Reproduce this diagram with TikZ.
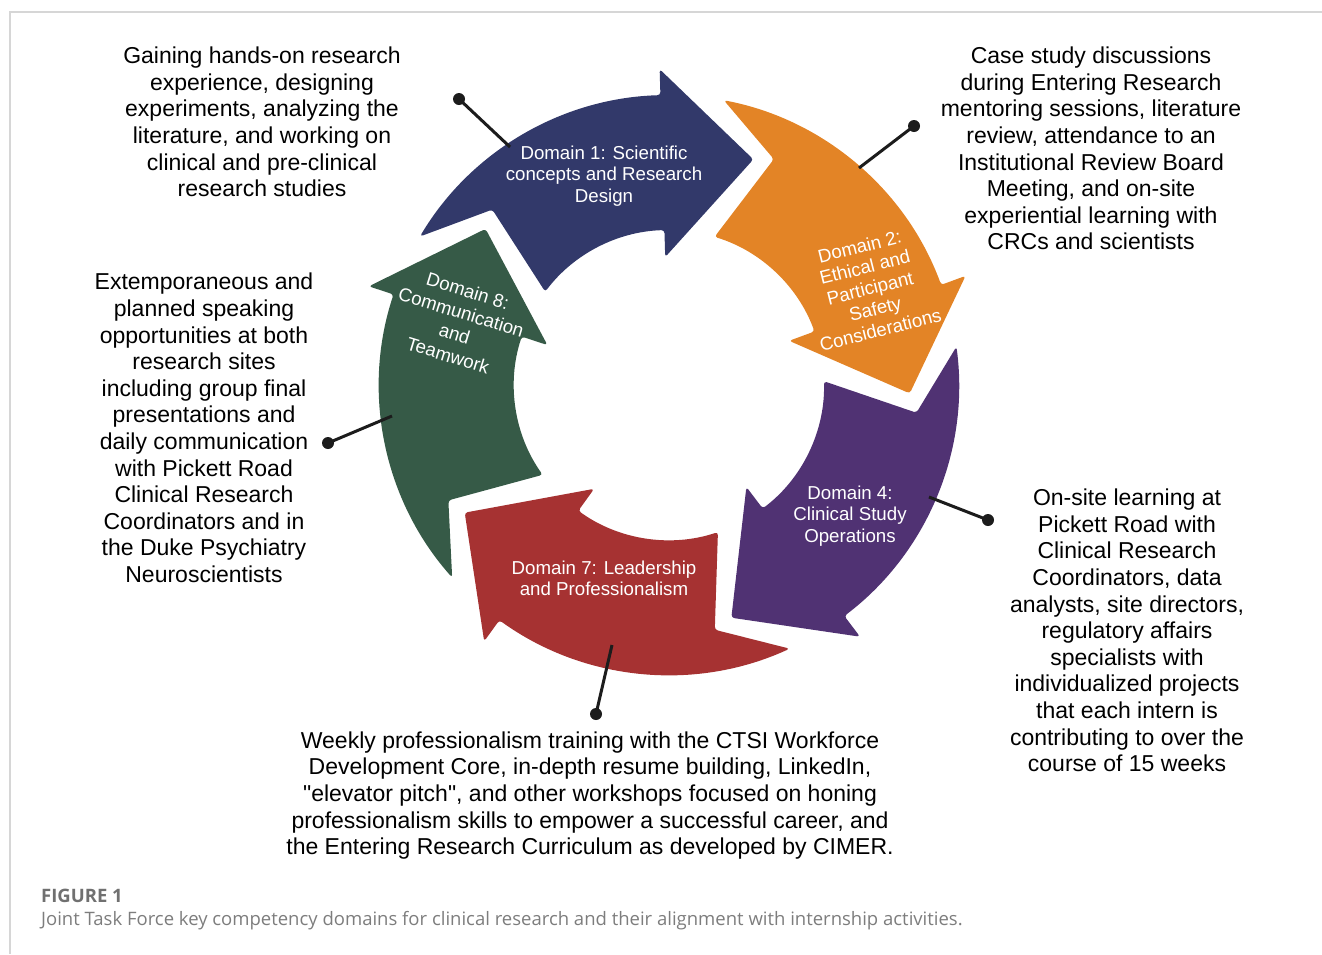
\documentclass[tikz,border=0pt]{standalone}
\usepackage{fontspec}
\setmainfont{Liberation Sans}[Ligatures=TeXOff]
\newfontfamily\capfont{Open Sans}
\usetikzlibrary{calc}

\definecolor{dnavy}{RGB}{50,57,106}
\definecolor{dorange}{RGB}{227,132,38}
\definecolor{dpurple}{RGB}{80,50,115}
\definecolor{dred}{RGB}{166,50,50}
\definecolor{dgreen}{RGB}{54,90,71}
\definecolor{leader}{RGB}{28,28,28}
\definecolor{frameline}{RGB}{214,214,214}
\definecolor{capgray}{RGB}{112,112,112}
\definecolor{captext}{RGB}{125,125,125}

% One curved arrow of the cycle.
% #1 = back angle of the preceding arrow head (sets the notched tail),
% #2 = back angle of this arrow's head, #3 = fill colour.
\newcommand\cycarrow[3]{%
  \fill[#3, rounded corners=3pt]
    ({#1+12.6}:290) arc[start angle={#1+12.6}, end angle={#2}, radius=290]
    -- ({#2}:316) -- ({#2+22.2}:240.9) -- ({#2}:128) -- ({#2}:155)
    arc[start angle={#2}, end angle={#1+18.8}, radius=155]
    -- ({#1+26.6}:249) -- cycle;}

\begin{document}
\begin{tikzpicture}[x=1pt, y=-1pt,
  note/.style={align=center, font=\fontsize{23}{26.6}\selectfont, text=black, inner sep=0pt},
  dlabel/.style={align=center, font=\fontsize{18.7}{21.5}\selectfont, text=white, inner sep=0pt},
  dot/.style={circle, fill=leader, minimum size=12pt, inner sep=0pt},
  leaderline/.style={draw=leader, line width=3pt}]
\useasboundingbox (0,0) rectangle (1322,954);

% page frame
\draw[frameline, line width=1.2pt] (10,954) -- (10,12) -- (1322,12);

% the five domain arrows
\begin{scope}[shift={(669,385)}]
  \cycarrow{198.2}{268.3}{dnavy}
  \cycarrow{-91.7}{-20.2}{dorange}
  \cycarrow{-20.2}{52.8}{dpurple}
  \cycarrow{52.8}{125.8}{dred}
  \cycarrow{125.8}{198.2}{dgreen}
\end{scope}

% domain labels
\node[dlabel] (dom1) at (604,176) {Domain 1: Scientific\\concepts and Research\\Design};
\node[dlabel, rotate=14] (dom2) at (870,288) {Domain 2:\\Ethical and\\Participant\\Safety\\Considerations};
\node[dlabel] (dom4) at (850,516) {Domain 4:\\Clinical Study\\Operations};
\node[dlabel] (dom7) at (604,578.5) {Domain 7: Leadership\\and Professionalism};
\node[dlabel, rotate=-17, font=\fontsize{18.7}{22.5}\selectfont] (dom8) at (458,323) {Domain 8:\\Communication\\and\\Teamwork};

% activity descriptions
\node[note] (act1) at (262,122) {Gaining hands-on research\\experience, designing\\experiments, analyzing the\\literature, and working on\\clinical and pre-clinical\\research studies};
\node[note] (act2) at (1091,148.5) {Case study discussions\\during Entering Research\\mentoring sessions, literature\\review, attendance to an\\Institutional Review Board\\Meeting, and on-site\\experiential learning with\\CRCs and scientists};
\node[note] (act8) at (204,428) {Extemporaneous and\\planned speaking\\opportunities at both\\research sites\\including group final\\presentations and\\daily communication\\with Pickett Road\\Clinical Research\\Coordinators and in\\the Duke Psychiatry\\Neuroscientists};
\node[note] (act4) at (1127,630.5) {On-site learning at\\Pickett Road with\\Clinical Research\\Coordinators, data\\analysts, site directors,\\regulatory affairs\\specialists with\\individualized projects\\that each intern is\\contributing to over the\\course of 15 weeks};
\node[note] (act7) at (590,795.5) {Weekly professionalism training with the CTSI Workforce\\Development Core, in-depth resume building, LinkedIn,\\"elevator pitch", and other workshops focused on honing\\professionalism skills to empower a successful career, and\\the Entering Research Curriculum as developed by CIMER.};

% leader lines from the descriptions to the arrows
\node[dot] (p1) at (459,99) {};
\node[dot] (p2) at (914,126) {};
\node[dot] (p8) at (328,443) {};
\node[dot] (p4) at (988,520) {};
\node[dot] (p7) at (596,714) {};
\coordinate (q1) at (510,147);
\coordinate (q2) at (859,168);
\coordinate (q8) at (392,416);
\coordinate (q4) at (929,497);
\coordinate (q7) at (612,645);
\draw[leaderline] (p1.center) -- (q1);
\draw[leaderline] (p2.center) -- (q2);
\draw[leaderline] (p8.center) -- (q8);
\draw[leaderline] (p4.center) -- (q4);
\draw[leaderline] (p7.center) -- (q7);

% caption
\node[anchor=west, inner sep=0pt, text=capgray, font=\capfont\bfseries\fontsize{18.5}{22}\selectfont] (figno) at (41,896) {FIGURE 1};
\node[anchor=west, inner sep=0pt, text=captext, font=\capfont\fontsize{18.5}{22}\selectfont] (figcap) at (41,921) {Joint Task Force key competency domains for clinical research and their alignment with internship activities.};
\end{tikzpicture}
\end{document}
